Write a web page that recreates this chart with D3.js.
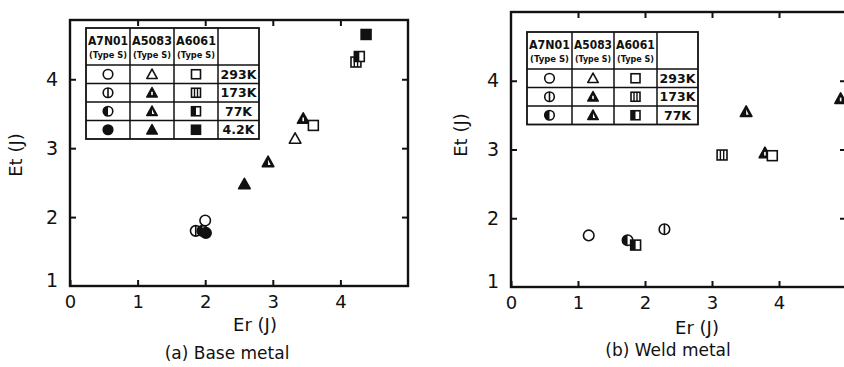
<!DOCTYPE html>
<html><head><meta charset="utf-8">
<script src="https://cdn.jsdelivr.net/npm/d3@7"></script>
<style>
body{margin:0;background:#fff;}
svg{display:block;font-family:"DejaVu Sans",sans-serif;}
</style></head>
<body><svg id="c" width="844" height="367"></svg>
<script>
// ---------- data ----------
const alloys = ["A7N01", "A5083", "A6061"];
const alloyType = "(Type S)";
const temps = ["293K", "173K", "77K", "4.2K"];
const weldTemps = ["293K", "173K", "77K"];
const xTicks = [0, 1, 2, 3, 4];
const yTicks = [1, 2, 3, 4];

// (a) Base metal
const baseEr    = [2.00, 1.86, 1.96, 2.01, 3.33, 3.45, 2.93, 2.58, 3.60, 4.23, 4.28, 4.38];
const baseEt    = [1.95, 1.80, 1.80, 1.77, 3.14, 3.43, 2.80, 2.48, 3.33, 4.25, 4.33, 4.65];
const baseAlloy = ["A7N01","A7N01","A7N01","A7N01","A5083","A5083","A5083","A5083","A6061","A6061","A6061","A6061"];
const baseTemp  = ["293K","173K","77K","4.2K","293K","173K","77K","4.2K","293K","173K","77K","4.2K"];

// (b) Weld metal
const weldEr    = [1.16, 2.29, 1.74, 3.51, 3.79, 4.92, 3.90, 3.15, 1.86];
const weldEt    = [1.75, 1.84, 1.68, 3.55, 2.95, 3.74, 2.91, 2.92, 1.61];
const weldAlloy = ["A7N01","A7N01","A7N01","A5083","A5083","A5083","A6061","A6061","A6061"];
const weldTemp  = ["293K","173K","77K","77K","173K","173K","293K","173K","77K"];

// ---------- drawing ----------
const svg = d3.select("#c");
const INK = "#111";

function symbol(g, alloy, temp, cx, cy, s) {
  const sym = g.append("g").attr("transform", `translate(${cx},${cy})`);
  const full = temp === "4.2K";
  const half = temp === "77K";
  const lines = temp === "173K";
  if (alloy === "A7N01") {
    const r = s * 0.48;
    sym.append("circle").attr("r", r).attr("fill", full ? INK : "#fff").attr("stroke", INK).attr("stroke-width", 1.6);
    if (half) sym.append("path").attr("d", `M0,${-r} A${r},${r} 0 0 0 0,${r} Z`).attr("fill", INK);
    if (lines) sym.append("line").attr("x1", 0).attr("x2", 0).attr("y1", -r).attr("y2", r).attr("stroke", INK).attr("stroke-width", 1.6);
  } else if (alloy === "A5083") {
    const h = s * 0.95, w = s * 1.05;
    const p = `M0,${-h*0.55} L${w/2},${h*0.45} L${-w/2},${h*0.45} Z`;
    const filled = temp !== "293K";
    sym.append("path").attr("d", p).attr("fill", filled ? INK : "#fff").attr("stroke", INK).attr("stroke-width", 1.6).attr("stroke-linejoin", "round");
    if (lines) sym.append("rect").attr("x", -0.8).attr("y", -1).attr("width", 1.6).attr("height", h*0.35).attr("fill", "#fff");
    if (half) sym.append("path").attr("d", `M0,${-h*0.2} L${w*0.22},${h*0.3} L0,${h*0.3} Z`).attr("fill", "#fff");
  } else {
    const a = s * 0.9;
    sym.append("rect").attr("x", -a/2).attr("y", -a/2).attr("width", a).attr("height", a)
      .attr("fill", full ? INK : "#fff").attr("stroke", INK).attr("stroke-width", 1.6);
    if (half) sym.append("rect").attr("x", -a/2).attr("y", -a/2).attr("width", a/2).attr("height", a).attr("fill", INK);
    if (lines) {
      sym.append("line").attr("x1", -a/6).attr("x2", -a/6).attr("y1", -a/2).attr("y2", a/2).attr("stroke", INK).attr("stroke-width", 1.4);
      sym.append("line").attr("x1", a/6).attr("x2", a/6).attr("y1", -a/2).attr("y2", a/2).attr("stroke", INK).attr("stroke-width", 1.4);
    }
  }
}

function panel(cfg) {
  const x = d3.scaleLinear().domain([0, 5]).range(cfg.xr);
  const y = d3.scaleLinear().domain(cfg.yd).range(cfg.yr);
  const g = svg.append("g");
  const [x0, x1] = cfg.xr, [yb, yt] = cfg.yr;

  // frame
  g.append("rect").attr("x", x0).attr("y", yt).attr("width", x1 - x0).attr("height", yb - yt)
    .attr("fill", "none").attr("stroke", INK).attr("stroke-width", 2.4);

  const fs = "18px";
  // bottom axis
  const ax = g.append("g").attr("transform", `translate(0,${yb})`)
    .call(d3.axisBottom(x).tickValues(xTicks).tickSize(-6).tickPadding(9).tickFormat(d3.format("d")));
  ax.select(".domain").remove();
  ax.selectAll("line").attr("stroke", INK).attr("stroke-width", 2);
  ax.selectAll("text").attr("font-size", fs).attr("fill", INK).attr("font-family", "DejaVu Sans");
  // top ticks
  const at = g.append("g").attr("transform", `translate(0,${yt})`)
    .call(d3.axisTop(x).tickValues(xTicks.filter(d => d > 0)).tickSize(-6).tickFormat(""));
  at.select(".domain").remove();
  at.selectAll("line").attr("stroke", INK).attr("stroke-width", 2);
  // left axis
  const ay = g.append("g").attr("transform", `translate(${x0},0)`)
    .call(d3.axisLeft(y).tickValues(yTicks).tickSize(-6).tickPadding(12).tickFormat(d3.format("d")));
  ay.select(".domain").remove();
  ay.selectAll("line").attr("stroke", INK).attr("stroke-width", 2);
  ay.selectAll("text").attr("font-size", "19px").attr("fill", INK).attr("font-family", "DejaVu Sans");
  ay.selectAll(".tick").filter(d => d === 1).select("text").attr("dy", "0.05em");
  ay.selectAll(".tick").filter(d => d === 1).select("line").remove();
  // right ticks
  const ar = g.append("g").attr("transform", `translate(${x1},0)`)
    .call(d3.axisRight(y).tickValues(yTicks.filter(d => d > 1)).tickSize(-6).tickFormat(""));
  ar.select(".domain").remove();
  ar.selectAll("line").attr("stroke", INK).attr("stroke-width", 2);

  // titles
  g.append("text").attr("transform", `translate(${cfg.yTitle[0]},${cfg.yTitle[1]}) rotate(-90)`)
    .attr("text-anchor", "middle").attr("font-size", "18px").attr("fill", INK).text("Et (J)");
  g.append("text").attr("x", cfg.xTitle[0]).attr("y", cfg.xTitle[1]).attr("text-anchor", "middle")
    .attr("font-size", "18px").attr("fill", INK).text("Er (J)");
  g.append("text").attr("x", cfg.cap[0]).attr("y", cfg.cap[1]).attr("text-anchor", "middle")
    .attr("font-size", "17px").attr("fill", INK).text(cfg.caption);

  // legend table
  const t = cfg.table;
  const colX = t.cols, rowY = t.rows;
  const tg = g.append("g");
  tg.append("rect").attr("x", colX[0]).attr("y", rowY[0]).attr("width", colX[4] - colX[0]).attr("height", rowY[rowY.length-1] - rowY[0])
    .attr("fill", "#fff").attr("stroke", INK).attr("stroke-width", 1.8);
  colX.slice(1, 4).forEach(cx => tg.append("line").attr("x1", cx).attr("x2", cx).attr("y1", rowY[0]).attr("y2", rowY[rowY.length-1]).attr("stroke", INK).attr("stroke-width", 1.5));
  rowY.slice(1, -1).forEach(ry => tg.append("line").attr("x1", colX[0]).attr("x2", colX[4]).attr("y1", ry).attr("y2", ry).attr("stroke", INK).attr("stroke-width", 1.5));
  alloys.forEach((a, i) => {
    const cx = (colX[i] + colX[i+1]) / 2;
    const cw = colX[i+1] - colX[i];
    tg.append("text").attr("x", cx).attr("y", rowY[0] + 17).attr("text-anchor", "middle")
      .attr("font-size", "12px").attr("font-weight", "bold").attr("fill", INK)
      .attr("textLength", cw - 4).attr("lengthAdjust", "spacingAndGlyphs").text(a);
    tg.append("text").attr("x", cx).attr("y", rowY[0] + 30).attr("text-anchor", "middle")
      .attr("font-size", "8px").attr("font-weight", "bold").attr("fill", INK)
      .attr("textLength", cw - 6).attr("lengthAdjust", "spacingAndGlyphs").text(alloyType);
  });
  cfg.temps.forEach((tp, j) => {
    const cy = (rowY[j+1] + rowY[j+2]) / 2;
    alloys.forEach((a, i) => symbol(tg, a, tp, (colX[i] + colX[i+1]) / 2, cy, 10));
    tg.append("text").attr("x", (colX[3] + colX[4]) / 2).attr("y", cy).attr("dy", "0.36em").attr("text-anchor", "middle")
      .attr("font-size", "12.5px").attr("font-weight", "bold").attr("fill", INK).text(tp);
  });

  // points
  const pg = g.append("g");
  cfg.er.forEach((v, i) => symbol(pg, cfg.alloy[i], cfg.temp[i], x(v), y(cfg.et[i]), 11));
}

panel({
  xr: [70, 408], yr: [286, 20], yd: [1, 4.86],
  er: baseEr, et: baseEt, alloy: baseAlloy, temp: baseTemp, temps: temps,
  yTitle: [22, 155], xTitle: [255, 331], cap: [227, 359], caption: "(a) Base metal",
  table: { cols: [86, 130, 174, 218, 259], rows: [28, 65, 83.5, 102, 120.5, 139] }
});
panel({
  xr: [511, 846], yr: [287, 12], yd: [1, 5],
  er: weldEr, et: weldEt, alloy: weldAlloy, temp: weldTemp, temps: weldTemps,
  yTitle: [467, 135], xTitle: [697, 334], cap: [668, 356], caption: "(b) Weld metal",
  table: { cols: [527, 572, 614, 657, 698], rows: [32, 69, 87.5, 106, 124.5] }
});
</script></body></html>
